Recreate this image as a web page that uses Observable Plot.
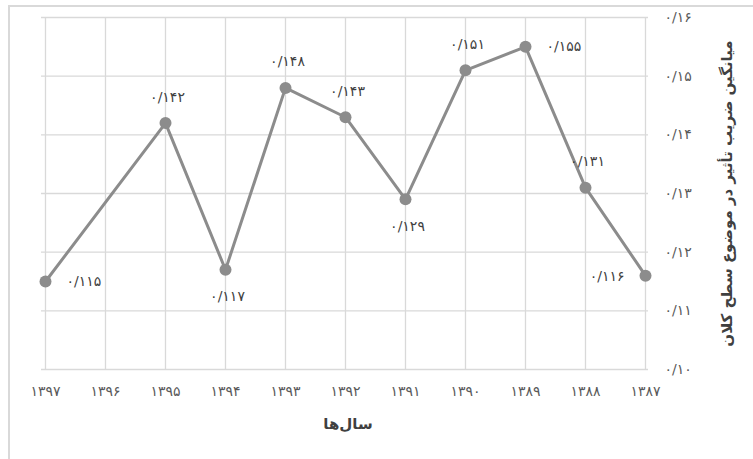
<!DOCTYPE html>
<html>
<head>
<meta charset="utf-8">
<script src="https://cdn.jsdelivr.net/npm/d3@7"></script>
<script src="https://cdn.jsdelivr.net/npm/@observablehq/plot@0.6"></script>
<style>
  html, body { margin: 0; padding: 0; background: #fff; }
  #wrap { position: relative; width: 753px; height: 459px; overflow: hidden; }
  #border { position: absolute; left: 8px; top: 5px; width: 800px; height: 500px;
            border-top: 2px solid #d9d9d9; border-left: 2px solid #d9d9d9; }
  svg { position: absolute; left: 0; top: 0; }
</style>
</head>
<body>
<div id="wrap"><div id="border"></div></div>
<script>
// Categories on the x axis (drawn left to right)
const categories = [1397, 1396, 1395, 1394, 1393, 1392, 1391, 1390, 1389, 1388, 1387];
// Series (1396 has no value)
const seriesYears = [1397, 1395, 1394, 1393, 1392, 1391, 1390, 1389, 1388, 1387];
const seriesValues = [0.115, 0.142, 0.117, 0.148, 0.143, 0.129, 0.151, 0.155, 0.131, 0.116];
// Y tick values
const yTicks = [0.10, 0.11, 0.12, 0.13, 0.14, 0.15, 0.16];
const xTitle = "سال‌ها";
const yTitle = "میانگین ضریب تأثیر در موضوع سطح کلان";

const faDigits = "۰۱۲۳۴۵۶۷۸۹";
const toFa = s => String(s).replace(/[0-9]/g, d => faDigits[+d]);
const fmtVal = (v, n) => toFa(v.toFixed(n).replace(".", "/"));

const data = seriesYears.map((year, i) => ({year, value: seriesValues[i]}));

// label placement (layout only)
const side = {1397: "right", 1395: "above", 1394: "below", 1393: "above", 1392: "above",
              1391: "below", 1390: "above", 1389: "right", 1388: "above", 1387: "left"};
const pick = s => data.filter(d => side[d.year] === s);

const font = "DejaVu Sans, sans-serif";
const labelOpts = {x: "year", y: "value", text: d => fmtVal(d.value, 3), fill: "#404040", fontSize: 14};

const chart = Plot.plot({
  width: 753,
  height: 459,
  marginLeft: 41,
  marginRight: 105,
  marginTop: 17,
  marginBottom: 90,
  style: {fontFamily: font, fontSize: "14px", color: "#595959", background: "transparent"},
  x: {type: "point", domain: categories, padding: 0},
  y: {domain: [0.10, 0.16]},
  marks: [
    Plot.gridX(categories, {stroke: "#d9d9d9", strokeOpacity: 1, strokeWidth: 1.3}),
    Plot.gridY(yTicks, {stroke: "#d9d9d9", strokeOpacity: 1, strokeWidth: 1.3}),
    Plot.axisX(categories, {tickSize: 0, tickPadding: 17, tickFormat: d => toFa(d), label: null, fill: "#595959", fontSize: 14}),
    Plot.axisY(yTicks, {anchor: "right", tickSize: 0, tickPadding: 16, tickFormat: d => fmtVal(d, 2), label: null, fill: "#595959", fontSize: 14}),
    Plot.line(data, {x: "year", y: "value", stroke: "#8c8c8c", strokeWidth: 3}),
    Plot.dot(data, {x: "year", y: "value", r: 6, fill: "#8c8c8c"}),
    Plot.text(pick("above"), {...labelOpts, dy: -26, dx: 2}),
    Plot.text(pick("below"), {...labelOpts, dy: 27, dx: 2}),
    Plot.text(pick("right"), {...labelOpts, dx: 21, textAnchor: "start"}),
    Plot.text(pick("left"), {...labelOpts, dx: -21, dy: 1, textAnchor: "end"}),
    Plot.text([xTitle], {frameAnchor: "bottom", dy: 59, dx: 3, text: d => d, fontWeight: "bold", fontSize: 15, fill: "#404040"}),
    Plot.text([yTitle], {frameAnchor: "right", textAnchor: "middle", dx: 79, dy: 0, rotate: -90, text: d => d, fontWeight: "bold", fontSize: 15, fill: "#404040"})
  ]
});
// widen the spacing of numeric labels (digits and slash only)
d3.select(chart).selectAll("text").each(function() {
  const t = this.textContent;
  if (/^[۰-۹\/]+$/.test(t)) this.style.letterSpacing = "2px";
});
document.getElementById("wrap").appendChild(chart);
</script>
</body>
</html>
